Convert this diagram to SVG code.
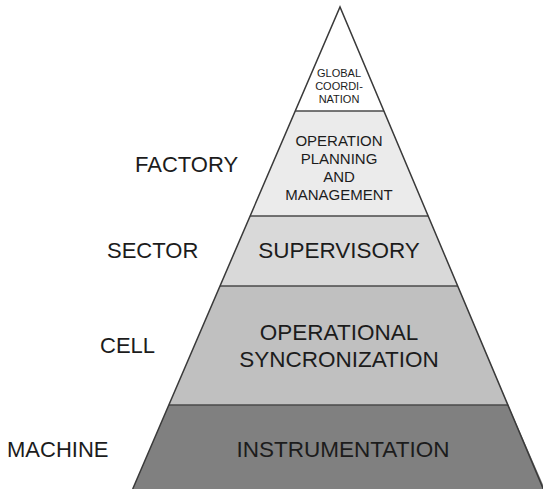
<svg xmlns="http://www.w3.org/2000/svg" width="543" height="489" viewBox="0 0 543 489">
<style>
.band{stroke:none}
.edge{stroke:#3a3a3a;stroke-width:1.5;fill:none;stroke-linejoin:miter}
.div{stroke:#4a4a4a;stroke-width:1.5}
text{font-family:"Liberation Sans",Arial,sans-serif;fill:#1c1c1c;text-anchor:middle}
.small{font-size:11px}
.mid{font-size:15px}
.big{font-size:22.5px}
.lvl{font-size:22px;text-anchor:start}
</style>
<rect width="543" height="489" fill="#ffffff"/>
<g id="global-coordination">
<polygon class="band" fill="#ffffff" points="340,7 383.9,111 295.3,111"/>
<text class="small" x="339" y="77">GLOBAL</text>
<text class="small" x="339" y="90">COORDI-</text>
<text class="small" x="339" y="103">NATION</text>
</g>
<g id="operation-planning">
<polygon class="band" fill="#ebebeb" points="295.3,111 383.9,111 428.3,216 250.1,216"/>
<text class="mid" x="339" y="146">OPERATION</text>
<text class="mid" x="339" y="164">PLANNING</text>
<text class="mid" x="339" y="182">AND</text>
<text class="mid" x="339" y="200">MANAGEMENT</text>
</g>
<g id="supervisory">
<polygon class="band" fill="#d9d9d9" points="250.1,216 428.3,216 457.9,286 220,286"/>
<text class="big" x="339" y="258">SUPERVISORY</text>
</g>
<g id="operational-sync">
<polygon class="band" fill="#c0c0c0" points="220,286 457.9,286 508.2,405 168.9,405"/>
<text class="big" x="339" y="340">OPERATIONAL</text>
<text class="big" x="339" y="367">SYNCRONIZATION</text>
</g>
<g id="instrumentation">
<polygon class="band" fill="#808080" points="168.9,405 508.2,405 545,489 132.7,489"/>
<text class="big" x="343" y="457">INSTRUMENTATION</text>
</g>
<g id="connectors">
<line class="div" x1="295.3" y1="111" x2="383.9" y2="111"/>
<line class="div" x1="250.1" y1="216" x2="428.3" y2="216"/>
<line class="div" x1="220" y1="286" x2="457.9" y2="286"/>
<line class="div" x1="168.9" y1="405" x2="508.2" y2="405"/>
<polyline class="edge" points="132.7,489 340,7 545,493"/>
</g>
<g id="levels">
<text class="lvl" x="135" y="172">FACTORY</text>
<text class="lvl" x="107" y="258">SECTOR</text>
<text class="lvl" x="100" y="353">CELL</text>
<text class="lvl" x="7" y="457">MACHINE</text>
</g>
</svg>
